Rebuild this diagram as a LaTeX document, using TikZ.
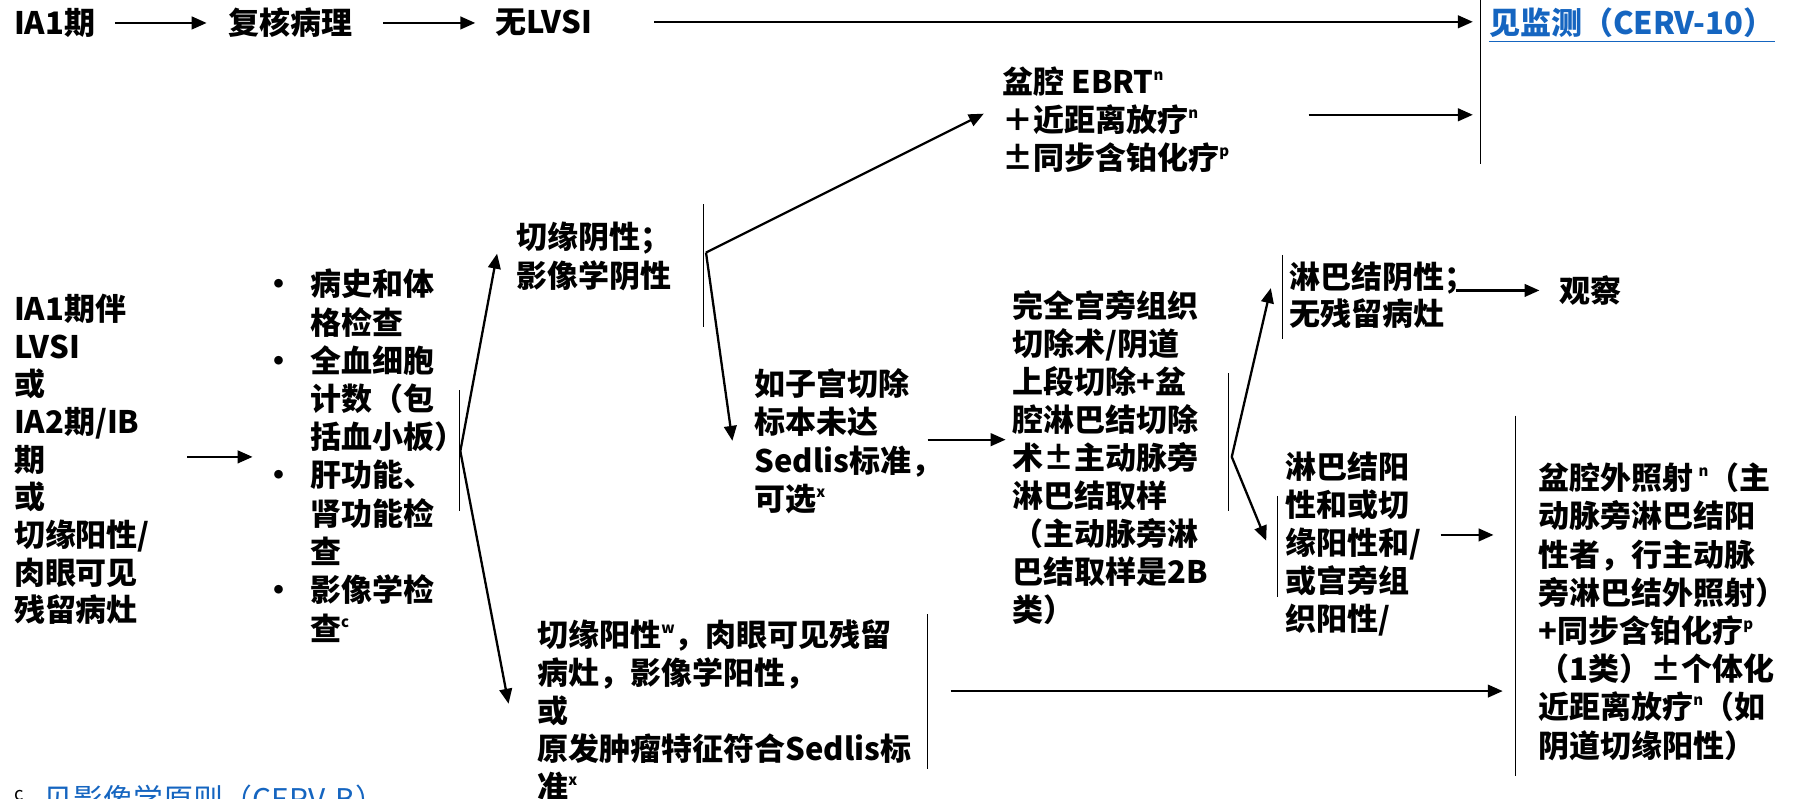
\documentclass[tikz,border=0pt]{standalone}
\usepackage{fontspec}
\setmainfont{Noto Sans CJK SC}
\usetikzlibrary{arrows.meta}
\definecolor{linkblue}{RGB}{21,101,192}
\newcommand\mysup[1]{\raisebox{0.42em}{\fontsize{13}{13}\selectfont #1}}
\tikzset{
  T/.style={font=\bfseries\fontsize{27}{#1}\selectfont, inner sep=0pt, align=left, anchor=north west},
  T/.default=33.2,
  S/.style={font=\bfseries\fontsize{27}{32}\selectfont, inner sep=0pt, anchor=west},
  arr/.style={line width=2pt, -{Triangle[length=13pt,width=11pt]}},
  bar/.style={line width=0.9pt},
}
\begin{document}
\begin{tikzpicture}[x=1pt,y=-1pt]
\clip (0,0) rectangle (1568,696);
% ---------- top row
\node[S] (ia1) at (12,20) {IA1期};
\node[S] (fh) at (199,20) {复核病理};
\node[S] (nolvsi) at (431,20) {无LVSI};
\node[S, text=linkblue] (mon) at (1297,20) {见监测（CERV-10）};
\draw[linkblue, line width=1.2pt] ([yshift=-3pt]mon.south west) -- ([yshift=-3pt]mon.south east);
\coordinate (a1s) at (100,20); \coordinate (a1e) at (180,20);
\coordinate (a2s) at (334,20); \coordinate (a2e) at (414,20);
\coordinate (a3s) at (570,19); \coordinate (a3e) at (1283,19);
\draw[arr] (a1s) -- (a1e);
\draw[arr] (a2s) -- (a2e);
\draw[arr] (a3s) -- (a3e);
\coordinate (barA1) at (1290,0); \coordinate (barA2) at (1290,143);
\draw[bar] (barA1) -- (barA2);
% ---------- EBRT
\node[T=33] (ebrt) at (873,58) {盆腔 EBRT\mysup{n}\\＋近距离放疗\mysup{n}\\±同步含铂化疗\mysup{p}};
\coordinate (a4s) at (1140,100); \coordinate (a4e) at (1283,100);
\draw[arr] (a4s) -- (a4e);
% ---------- left column
\node[T=32.8] (left) at (12,256) {IA1期伴\\LVSI\\或\\IA2期/IB\\期\\或\\切缘阳性/\\肉眼可见\\残留病灶};
\coordinate (a5s) at (163,398); \coordinate (a5e) at (220,398);
\draw[arr] (a5s) -- (a5e);
% ---------- workup
\node[T=33.3] (exam) at (216,234) {\begin{tabular}{@{}l@{}l@{}}
\makebox[54pt][c]{•}&病史和体\\
&格检查\\
\makebox[54pt][c]{•}&全血细胞\\
&计数（包\\
&括血小板）\\
\makebox[54pt][c]{•}&肝功能、\\
&肾功能检\\
&查\\
\makebox[54pt][c]{•}&影像学检\\
&查\mysup{c}
\end{tabular}};
\coordinate (barB1) at (400,340); \coordinate (barB2) at (400,445);
\draw[bar] (barB1) -- (barB2);
\coordinate (bB) at (401,393);
\coordinate (tNeg) at (433,221); \coordinate (tPos) at (443,613);
\draw[arr] (bB) -- (tNeg);
\draw[arr] (bB) -- (tPos);
% ---------- margin negative
\node[T=34] (neg) at (450,193) {切缘阴性；\\影像学阴性};
\coordinate (barC1) at (613,178); \coordinate (barC2) at (613,285);
\draw[bar] (barC1) -- (barC2);
\coordinate (bC) at (615,220);
\coordinate (tEbrt) at (857,99); \coordinate (tSed) at (638,384);
\draw[arr] (bC) -- (tEbrt);
\draw[arr] (bC) -- (tSed);
% ---------- Sedlis optional
\node[T=33.3] (sed) at (657,321) {如子宫切除\\标本未达\\Sedlis标准，\\可选\mysup{x}};
\coordinate (a6s) at (808,383); \coordinate (a6e) at (876,383);
\draw[arr] (a6s) -- (a6e);
% ---------- surgery
\node[T=33.1] (surg) at (882,253) {完全宫旁组织\\切除术/阴道\\上段切除+盆\\腔淋巴结切除\\术±主动脉旁\\淋巴结取样\\（主动脉旁淋\\巴结取样是2B\\类）};
\coordinate (barD1) at (1070,325); \coordinate (barD2) at (1070,445);
\draw[bar] (barD1) -- (barD2);
\coordinate (bD) at (1073,398);
\coordinate (tLnNeg) at (1107,251); \coordinate (tLnPos) at (1103,471);
\draw[arr] (bD) -- (tLnNeg);
\draw[arr] (bD) -- (tLnPos);
% ---------- LN negative
\node[T=32] (lnneg) at (1123,228) {淋巴结阴性；\\无残留病灶};
\coordinate (barE1) at (1117,222); \coordinate (barE2) at (1117,295);
\draw[bar] (barE1) -- (barE2);
\node[S] (obs) at (1358,253) {观察};
\coordinate (a7s) at (1268,253); \coordinate (a7e) at (1341,253);
\draw[arr] (a7s) -- (a7e);
% ---------- LN positive
\node[T=33.25] (lnpos) at (1120,393) {淋巴结阳\\性和或切\\缘阳性和/\\或宫旁组\\织阳性/};
\coordinate (barF1) at (1113,432); \coordinate (barF2) at (1113,520);
\draw[bar] (barF1) -- (barF2);
\coordinate (a8s) at (1255,466); \coordinate (a8e) at (1301,466);
\draw[arr] (a8s) -- (a8e);
% ---------- right treatment
\coordinate (barG1) at (1320,362); \coordinate (barG2) at (1320,676);
\draw[bar] (barG1) -- (barG2);
\node[T=33.3] (rt) at (1340,403) {盆腔外照射\,\mysup{n}（主\\动脉旁淋巴结阳\\性者，行主动脉\\旁淋巴结外照射）\\+同步含铂化疗\mysup{p}\\（1类）±个体化\\近距离放疗\mysup{n}（如\\阴道切缘阳性）};
% ---------- margin positive
\node[T=33] (pos) at (468,540) {切缘阳性\mysup{w}，肉眼可见残留\\病灶，影像学阳性，\\或\\原发肿瘤特征符合Sedlis标\\准\mysup{x}};
\coordinate (barH1) at (808,535); \coordinate (barH2) at (808,670);
\draw[bar] (barH1) -- (barH2);
\coordinate (a9s) at (828,602); \coordinate (a9e) at (1309,602);
\draw[arr] (a9s) -- (a9e);
% ---------- footnote
\node[anchor=west, inner sep=0pt, font=\fontsize{16}{16}\selectfont] (fc) at (12,693) {c};
\node[anchor=west, inner sep=0pt, font=\fontsize{26}{26}\selectfont] (fn) at (38,696) {\textcolor{linkblue}{见影像学原则（CERV-B）}。};
\end{tikzpicture}
\end{document}
